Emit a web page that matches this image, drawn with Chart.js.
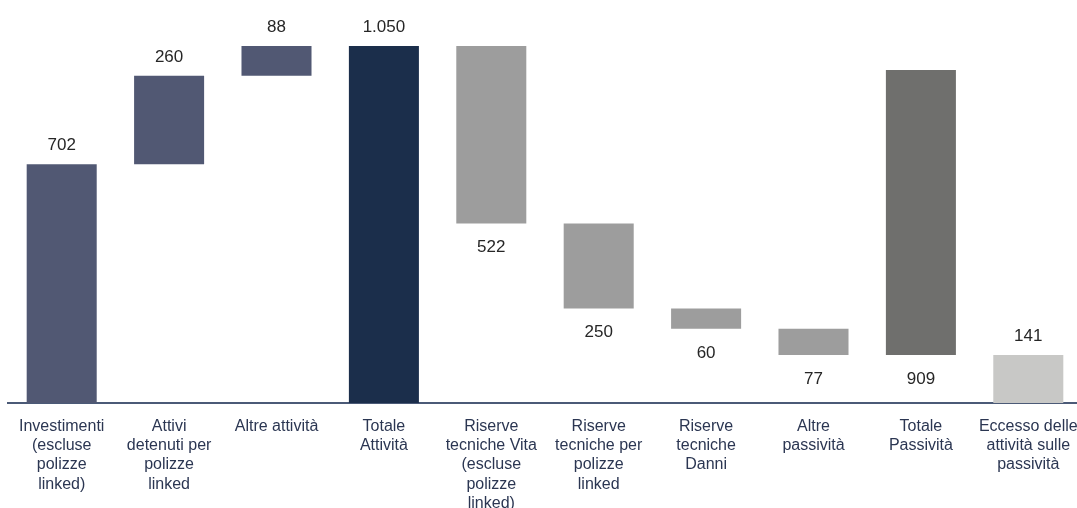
<!DOCTYPE html>
<html lang="it">
<head>
<meta charset="utf-8">
<title>Attività e passività</title>
<script src="https://cdn.jsdelivr.net/npm/chart.js@4/dist/chart.umd.min.js"></script>
<style>
  html, body { margin: 0; padding: 0; background: #fff; overflow: hidden; }
  canvas { display: block; }
</style>
</head>
<body>
<canvas id="grafico-waterfall" width="1082" height="508"></canvas>
<script>
// Categorie (etichette asse x, su più righe)
const categorie = [
  ['Investimenti', '(escluse', 'polizze', 'linked)'],
  ['Attivi', 'detenuti per', 'polizze', 'linked'],
  ['Altre attività'],
  ['Totale', 'Attività'],
  ['Riserve', 'tecniche Vita', '(escluse', 'polizze', 'linked)'],
  ['Riserve', 'tecniche per', 'polizze', 'linked'],
  ['Riserve', 'tecniche', 'Danni'],
  ['Altre', 'passività'],
  ['Totale', 'Passività'],
  ['Eccesso delle', 'attività sulle', 'passività']
];

// Valori mostrati sopra/sotto le barre
const valori = ['702', '260', '88', '1.050', '522', '250', '60', '77', '909', '141'];

// Inizio e fine di ogni barra
const inizioBarra = [0, 702, 962, 0, 528, 278, 218, 141, 141, 0];
const fineBarra = [702, 962, 1050, 1050, 1050, 528, 278, 218, 979, 141];

const colori = ['#515873', '#515873', '#515873', '#1b2e4b', '#9d9d9d', '#9d9d9d', '#9d9d9d', '#9d9d9d', '#6f6f6d', '#c8c8c6'];

// barre con l'etichetta sotto (passività)
const etichettaSotto = [4, 5, 6, 7, 8];

// Plugin per scrivere i valori
const pluginValori = {
  id: 'valori',
  afterDatasetsDraw(chart) {
    const ctx = chart.ctx;
    const y = chart.scales.y;
    const meta = chart.getDatasetMeta(0);
    ctx.save();
    ctx.font = '17px "Liberation Sans", Arial, sans-serif';
    ctx.fillStyle = '#262626';
    ctx.textAlign = 'center';
    ctx.textBaseline = 'middle';
    meta.data.forEach(function (bar, i) {
      let py;
      if (etichettaSotto.includes(i)) {
        py = y.getPixelForValue(inizioBarra[i]) + 24;
      } else {
        py = y.getPixelForValue(fineBarra[i]) - 19;
      }
      ctx.fillText(valori[i], bar.x, py);
    });
    ctx.restore();
  }
};

document.addEventListener('DOMContentLoaded', function () {
  const ctx = document.getElementById('grafico-waterfall').getContext('2d');
  new Chart(ctx, {
    type: 'bar',
    data: {
      labels: categorie,
      datasets: [{
        data: inizioBarra.map((v, i) => [v, fineBarra[i]]),
        backgroundColor: colori,
        borderWidth: 0,
        categoryPercentage: 1,
        barPercentage: 0.652
      }]
    },
    options: {
      responsive: false,
      animation: false,
      layout: { padding: { left: 8, right: 0, top: 0, bottom: 0 } },
      plugins: {
        legend: { display: false },
        tooltip: { enabled: false }
      },
      scales: {
        x: {
          grid: { display: false, drawTicks: false },
          border: { display: true, color: '#4b5a77', width: 2 },
          ticks: {
            color: '#2b3652',
            font: { family: '"Liberation Sans", Arial, sans-serif', size: 16, lineHeight: 1.2 },
            padding: 14,
            maxRotation: 0,
            autoSkip: false
          },
          afterFit(scale) {
            scale.height = 105;
            scale.paddingLeft = 0;
            scale.paddingRight = 0;
          }
        },
        y: {
          display: false,
          min: 0,
          max: 1185
        }
      }
    },
    plugins: [pluginValori]
  });
});
</script>
</body>
</html>
